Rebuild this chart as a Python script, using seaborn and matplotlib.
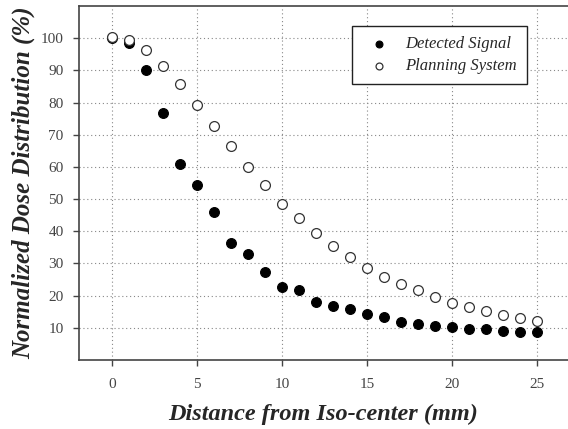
import pandas as pd
import matplotlib.pyplot as plt
import seaborn as sns

distance = list(range(0, 26))
detected = [100.0, 98.5, 90.2, 76.7, 60.8, 54.5, 46.0, 36.4, 33.0, 27.4,
            22.7, 21.7, 18.1, 16.7, 15.7, 14.3, 13.3, 11.9, 11.2, 10.4,
            10.3, 9.6, 9.6, 9.0, 8.7, 8.7]
planning = [100.3, 99.3, 96.3, 91.5, 85.9, 79.1, 72.7, 66.4, 60.1, 54.5,
            48.6, 44.2, 39.4, 35.5, 32.0, 28.6, 25.9, 23.7, 21.6, 19.5,
            17.8, 16.4, 15.1, 13.9, 12.9, 12.0]
series_names = ["Detected Signal", "Planning System"]

df = pd.concat([
    pd.DataFrame({"x": distance, "y": detected, "series": series_names[0]}),
    pd.DataFrame({"x": distance, "y": planning, "series": series_names[1]}),
])

sns.set_style("ticks")
plt.rcParams["font.family"] = ["Liberation Serif", "DejaVu Serif"]

fig = plt.figure(figsize=(5.68, 4.29), dpi=100)
ax = fig.add_axes([0.139, 0.161, 0.861, 0.825])

sns.scatterplot(data=df[df.series == series_names[0]], x="x", y="y",
                color="black", edgecolor="black", s=50, linewidth=0.8,
                label=series_names[0], ax=ax, zorder=3)
sns.scatterplot(data=df[df.series == series_names[1]], x="x", y="y",
                facecolor="white", edgecolor="#333333", s=50, linewidth=0.9,
                label=series_names[1], ax=ax, zorder=4)

ax.set_xlim(-1.95, 26.8)
ax.set_ylim(0, 110)
ax.set_xticks([0, 5, 10, 15, 20, 25])
ax.set_yticks(range(10, 101, 10))
ax.grid(True, linestyle=(0, (1, 2.5)), color="#888888", linewidth=0.8)
ax.set_axisbelow(True)

for side in ["left", "bottom", "top"]:
    ax.spines[side].set_color("#444444")
    ax.spines[side].set_linewidth(1.2)
ax.spines["right"].set_visible(False)
ax.tick_params(axis="both", labelsize=11, labelcolor="#444444",
               color="#444444", length=4, width=1)
ax.tick_params(axis="x", pad=9)
ax.tick_params(axis="y", pad=7)

ax.set_xlabel("Distance from Iso-center (mm)", fontsize=17.5,
              fontweight="bold", fontstyle="italic", labelpad=9)
ax.set_ylabel("Normalized Dose Distribution (%)", fontsize=18,
              fontweight="bold", fontstyle="italic", labelpad=4)

leg = ax.legend(loc="upper left", bbox_to_anchor=(0.558, 0.943),
                borderaxespad=0, frameon=True, fancybox=False,
                edgecolor="#222222", prop={"style": "italic", "size": 12},
                handletextpad=0.6, borderpad=0.6, markerscale=0.7,
                labelspacing=0.35)
leg.get_frame().set_linewidth(1.0)
leg.get_frame().set_alpha(1)

fig.savefig("out.png", dpi=100)
